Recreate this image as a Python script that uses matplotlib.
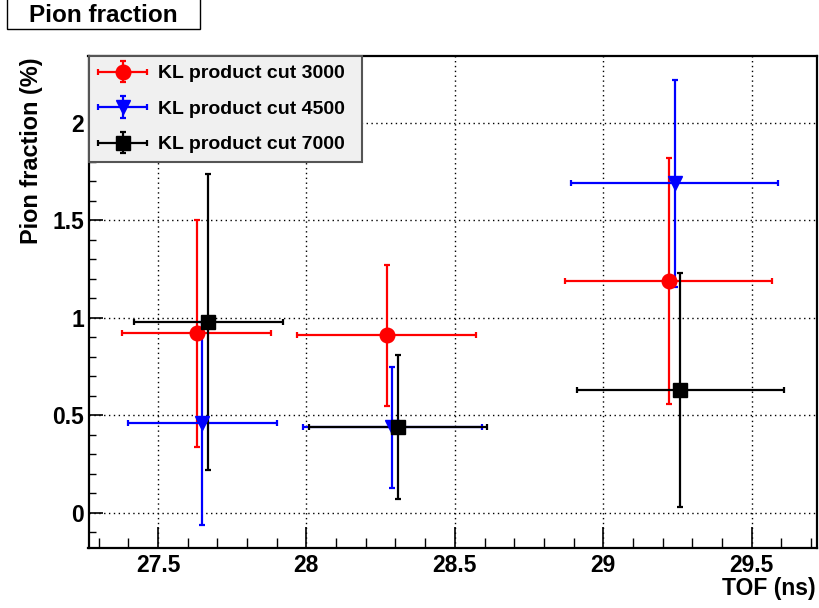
import matplotlib
matplotlib.use("Agg")
import matplotlib.pyplot as plt
from matplotlib.patches import Rectangle
from matplotlib.ticker import MultipleLocator
from matplotlib.legend_handler import HandlerErrorbar
from matplotlib.container import ErrorbarContainer

plt.rcParams['font.family'] = ['Liberation Sans', 'DejaVu Sans']
plt.rcParams['font.weight'] = 'bold'

# ---- data ----
labels = ["KL product cut 3000", "KL product cut 4500", "KL product cut 7000"]
colors = ["#ff0000", "#0000ff", "#000000"]
markers = ["o", "v", "s"]

x_3000 = [27.63, 28.27, 29.22]
y_3000 = [0.92, 0.91, 1.19]
xe_3000 = [0.25, 0.30, 0.35]
ye_3000 = [0.58, 0.36, 0.63]

x_4500 = [27.65, 28.29, 29.24]
y_4500 = [0.46, 0.44, 1.69]
xe_4500 = [0.25, 0.30, 0.35]
ye_4500 = [0.52, 0.31, 0.53]

x_7000 = [27.67, 28.31, 29.26]
y_7000 = [0.98, 0.44, 0.63]
xe_7000 = [0.25, 0.30, 0.35]
ye_7000 = [0.76, 0.37, 0.60]

series = [(x_3000, y_3000, xe_3000, ye_3000),
          (x_4500, y_4500, xe_4500, ye_4500),
          (x_7000, y_7000, xe_7000, ye_7000)]

W, H = 819, 608
fig = plt.figure(figsize=(W / 100, H / 100), dpi=100)
ax = fig.add_axes([88.5 / W, 1 - 548 / H, (817 - 88.5) / W, (548 - 56) / H])

for (xs, ys, xe, ye), c, m, lab in zip(series, colors, markers, labels):
    ms = 10.5 if m == "o" else (10 if m == "v" else 9.5)
    ax.errorbar(xs, ys, xerr=xe, yerr=ye, fmt=m, color=c, ecolor=c,
                markersize=ms, elinewidth=1.6, capsize=2.5, capthick=1.6,
                label=lab)

ax.set_xlim(27.266, 29.72)
ax.set_ylim(-0.18, 2.343)

ax.xaxis.set_major_locator(MultipleLocator(0.5))
ax.xaxis.set_minor_locator(MultipleLocator(0.1))
ax.yaxis.set_major_locator(MultipleLocator(0.5))
ax.yaxis.set_minor_locator(MultipleLocator(0.1))
ax.xaxis.set_major_formatter(matplotlib.ticker.FuncFormatter(lambda v, p: f"{v:g}"))
ax.yaxis.set_major_formatter(matplotlib.ticker.FuncFormatter(lambda v, p: f"{v:g}"))

ax.tick_params(axis='x', which='major', direction='in', length=15, width=1.2,
               labelsize=16.5, pad=4, top=False)
ax.tick_params(axis='x', which='minor', direction='in', length=7, width=1.0, top=False)
ax.tick_params(axis='y', which='major', direction='in', length=10, width=1.2,
               labelsize=16.5, pad=3, right=False)
ax.tick_params(axis='y', which='minor', direction='in', length=5, width=1.0, right=False)
for lab in ax.get_xticklabels() + ax.get_yticklabels():
    lab.set_fontweight('bold')

ax.grid(True, which='major', color='black', linestyle=(0, (1, 2.5)), linewidth=1.0)
ax.set_axisbelow(True)
for s in ax.spines.values():
    s.set_linewidth(1.6)
    s.set_color('black')

leg = ax.legend(loc='upper left', bbox_to_anchor=(0.0, 0.787, 0.375, 0.213),
                mode='expand', frameon=True, fancybox=False, shadow=False,
                prop={'weight': 'bold', 'size': 14}, borderpad=0.45,
                labelspacing=0.92, handlelength=2.6, handletextpad=0.55,
                borderaxespad=0.0,
                handler_map={ErrorbarContainer: HandlerErrorbar(xerr_size=1.25, yerr_size=0.55)})
leg.get_frame().set_facecolor('#f0f0f0')
leg.get_frame().set_edgecolor('#555555')
leg.get_frame().set_linewidth(1.5)
leg.get_frame().set_alpha(1.0)

# axis titles
fig.text(816 / W, 1 - 588 / H, "TOF (ns)", ha='right', va='center',
         fontsize=16.5, fontweight='bold')
fig.text(32 / W, 1 - 58 / H, "Pion fraction (%)", ha='center', va='top',
         rotation=90, fontsize=16.9, fontweight='bold')

# title box
fig.patches.append(Rectangle((7 / W, 1 - 29 / H), 193 / W, 40 / H,
                             transform=fig.transFigure, facecolor='white',
                             edgecolor='black', linewidth=1.0))
fig.text(103 / W, 1 - 15 / H, "Pion fraction", ha='center', va='center',
         fontsize=17.5, fontweight='bold')

fig.savefig("out.png", dpi=100)
